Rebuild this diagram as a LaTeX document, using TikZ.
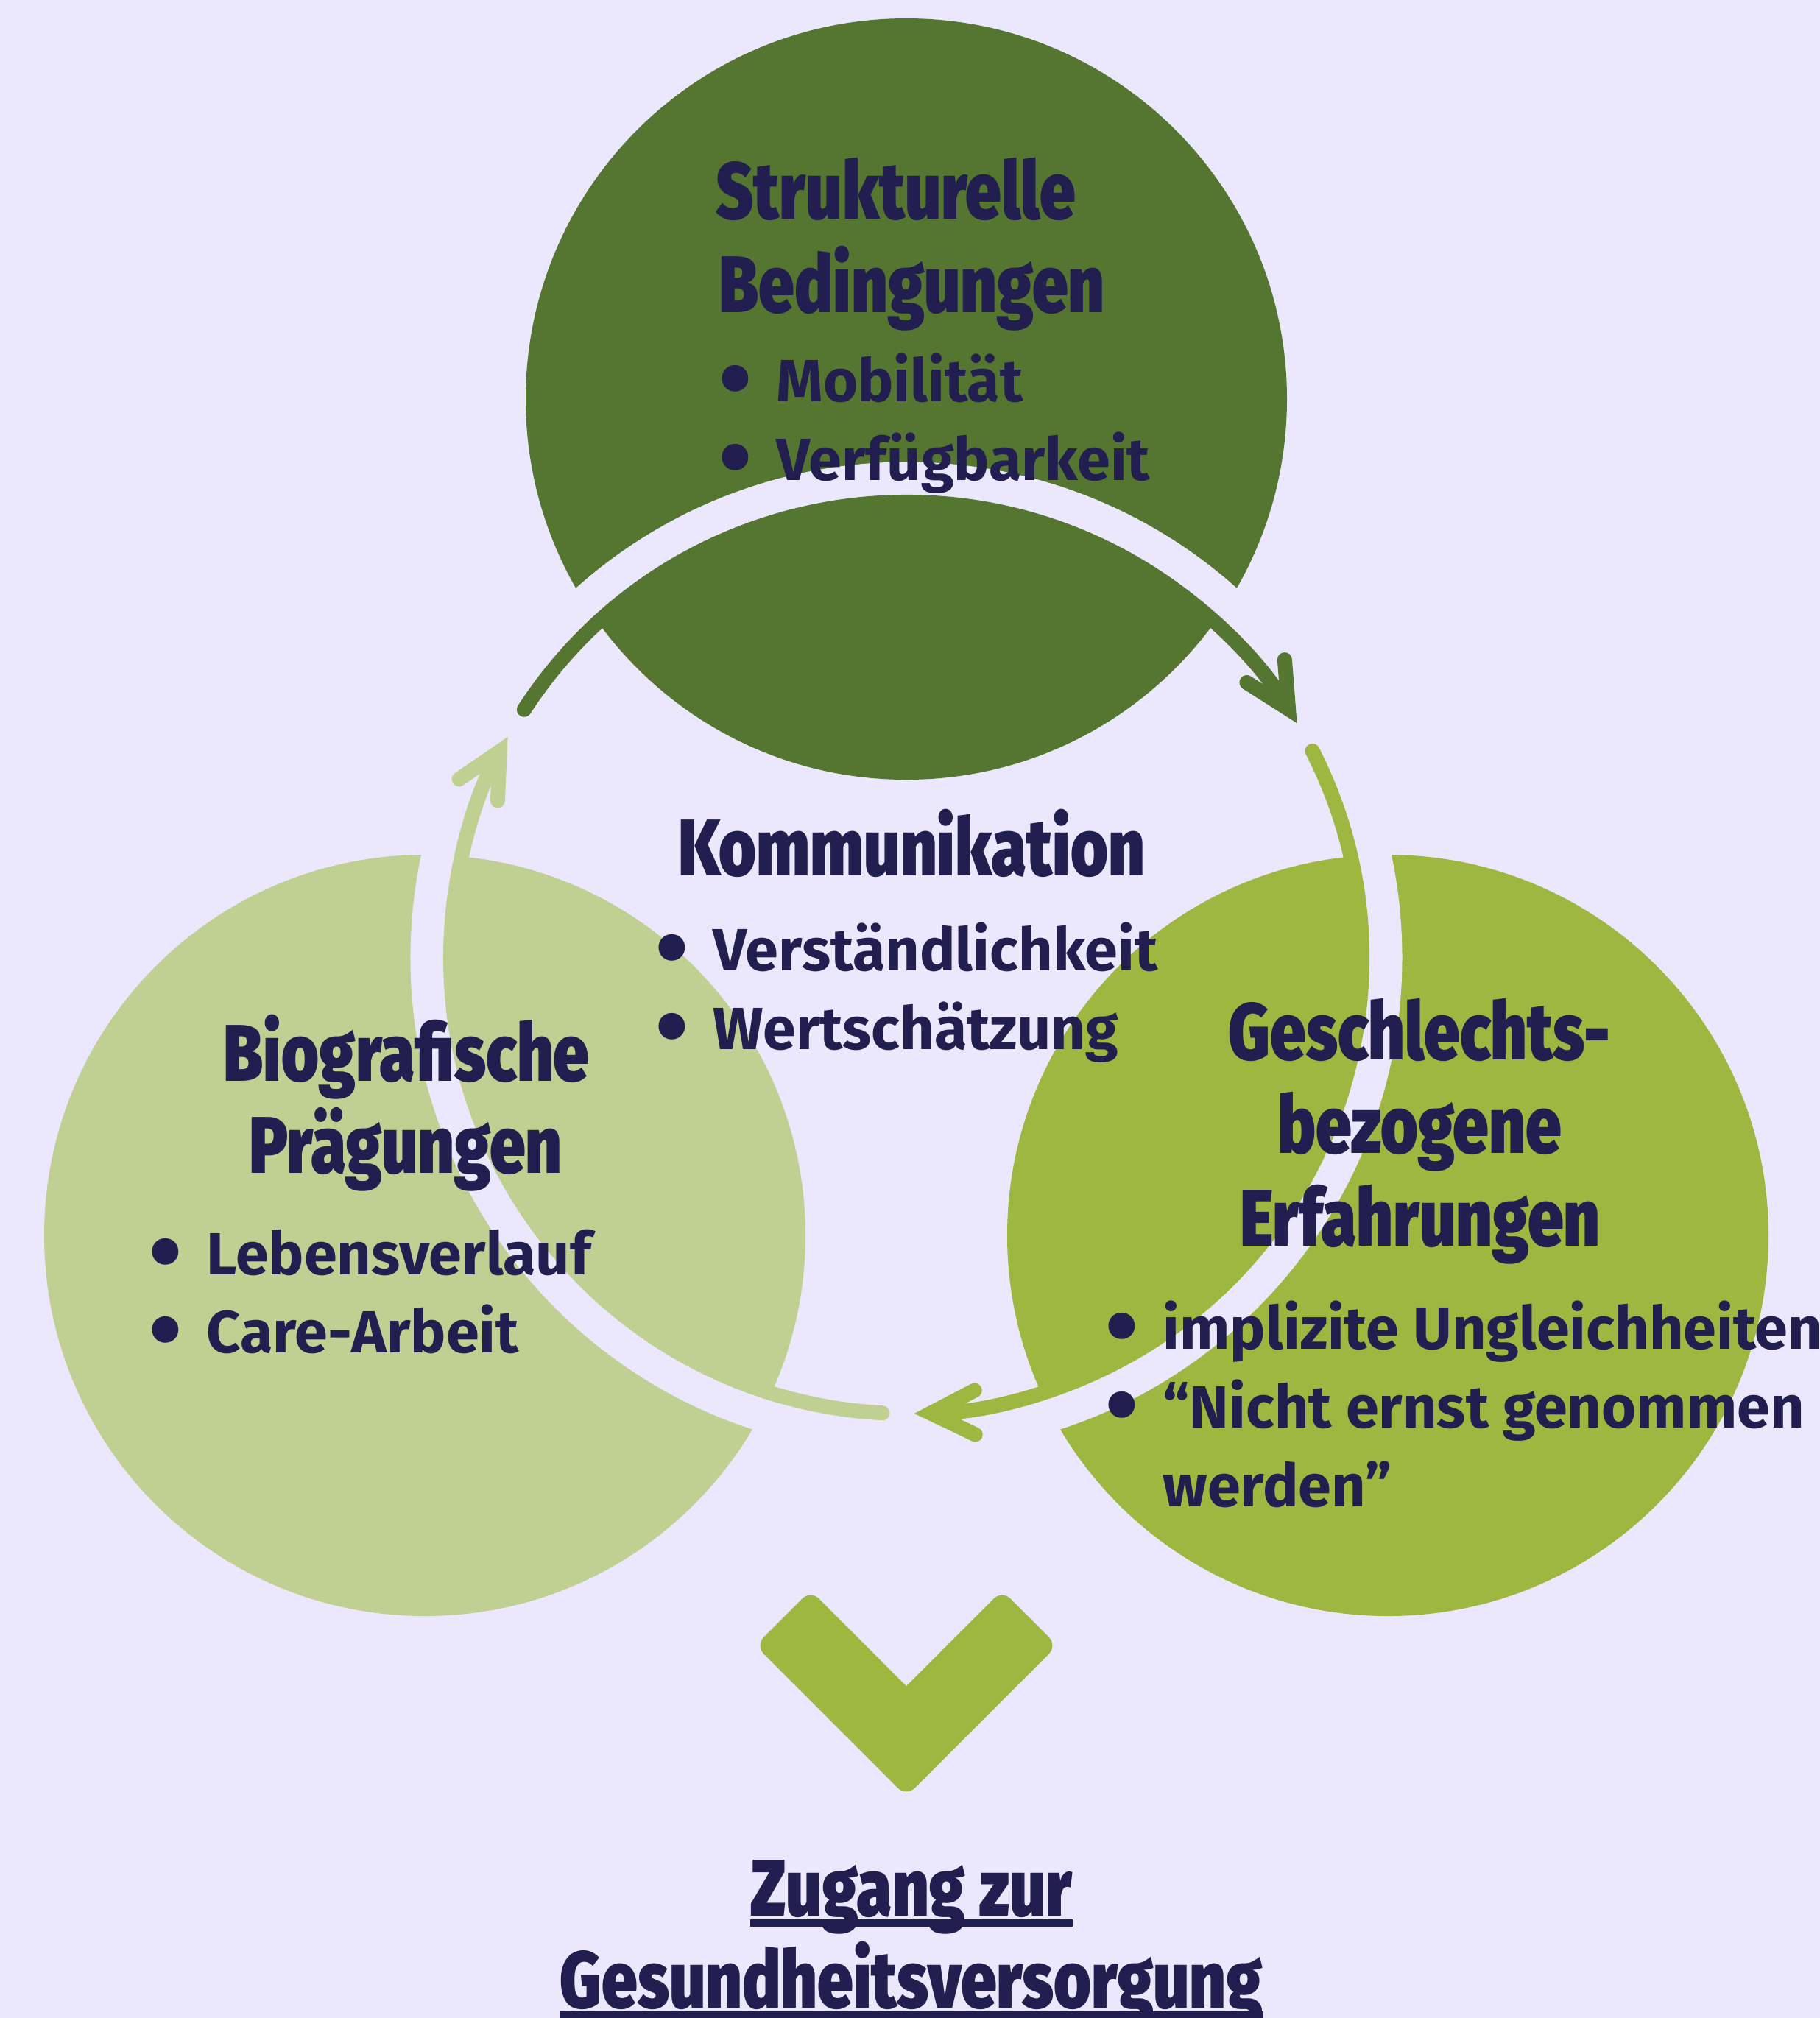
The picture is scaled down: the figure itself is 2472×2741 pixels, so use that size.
\documentclass[tikz,border=0pt]{standalone}
\usepackage{fontspec}
\setmainfont{Fira Sans}
\newfontfamily\headfont{Fira Sans Black}[FakeStretch=0.80]
\usetikzlibrary{arrows.meta}

\definecolor{lavender}{HTML}{EBE8FD}
\definecolor{darkgreen}{HTML}{557630}
\definecolor{midgreen}{HTML}{9DB741}
\definecolor{lightgreen}{HTML}{BFD092}
\definecolor{navy}{HTML}{221F50}

\newcommand{\itemdot}{\makebox[0.78cm][l]{\raisebox{-0.17em}{\scalebox{1.6}{\textbullet}}}}

\pgfdeclarelayer{back}
\pgfsetlayers{back,main}

\tikzset{
  headline/.style={font=\headfont\fontsize{31}{36}\selectfont, text=navy, inner sep=0pt, anchor=base},
  listline/.style={font=\bfseries\fontsize{23}{30}\selectfont, text=navy, inner sep=0pt, anchor=base west},
  cyclearrow/.style={line width=0.2cm, line cap=round,
    -{Straight Barb[length=0.6cm, width=0.6cm, line cap=round, line join=miter]}},
}

\begin{document}
\begin{tikzpicture}[x=0.01cm, y=-0.01cm]
  \begin{pgfonlayer}{back}
    \fill[lavender] (0,0) rectangle (2472,2741);
  \end{pgfonlayer}
  \useasboundingbox (0,0) rectangle (2472,2741);
  \clip (0,0) rectangle (2472,2741);

  % three circles
  \fill[darkgreen] (1231,542) circle[radius=517];
  \fill[lightgreen] (577,1678) circle[radius=517];
  \fill[midgreen] (1885,1678) circle[radius=517];

  % ring with the three arrows
  \coordinate (ring) at (1231,1301);
  \draw[lavender, line width=0.45cm] (ring) circle[radius=651];
  \draw[cyclearrow, darkgreen] ([shift={(-147:619)}]ring) arc[start angle=-147, end angle=-31, radius=619];
  \draw[cyclearrow, midgreen] ([shift={(-27:619)}]ring) arc[start angle=-27, end angle=89, radius=619];
  \draw[cyclearrow, lightgreen] ([shift={(93:619)}]ring) arc[start angle=93, end angle=209, radius=619];

  % top circle
  \node[headline, anchor=base west] (strukt) at (972,297) {Strukturelle};
  \node[headline, anchor=base west] (beding) at (976,424) {Bedingungen};
  \node[listline] (mobil) at (976,545) {\itemdot Mobilität};
  \node[listline] (verfueg) at (976,652) {\itemdot Verfügbarkeit};

  % middle
  \node[headline] (kommu) at (1238,1189) {Kommunikation};
  \node[listline] (verst) at (890,1318) {\itemdot Verständlichkeit};
  \node[listline] (wert) at (890,1425) {\itemdot Wertschätzung};

  % left circle
  \node[headline] (biogr) at (552,1468) {Biografische};
  \node[headline] (praeg) at (551,1593) {Prägungen};
  \node[listline] (leben) at (202,1731) {\itemdot Lebensverlauf};
  \node[listline] (care) at (202,1837) {\itemdot Care-Arbeit};

  % right circle
  \node[headline] (geschl) at (1928,1439) {Geschlechts-};
  \node[headline] (bezog) at (1928,1566) {bezogene};
  \node[headline] (erfahr) at (1929,1692) {Erfahrungen};
  \node[listline] (implizit) at (1501,1832) {\itemdot implizite Ungleichheiten};
  \node[listline] (ernst) at (1501,1939) {\itemdot “Nicht ernst genommen};
  \node[listline] (werden) at (1579,2046) {werden”};

  % chevron and result
  \fill[midgreen] (1231,2290) [rounded corners=0.16cm] -- (1361,2160) -- (1436,2235) -- (1231,2440) -- (1026,2235) -- (1101,2160) [sharp corners] -- cycle;
  \node[headline] (zugang) at (1238,2602) {Zugang zur};
  \node[headline] (gesund) at (1238,2727) {Gesundheitsversorgung};
  \begin{pgfonlayer}{back}
    \draw[navy, line width=0.1cm] ([yshift=-0.1cm]zugang.base west) -- ([yshift=-0.1cm]zugang.base east);
    \draw[navy, line width=0.1cm] ([yshift=-0.1cm]gesund.base west) -- ([yshift=-0.1cm]gesund.base east);
  \end{pgfonlayer}
\end{tikzpicture}
\end{document}
